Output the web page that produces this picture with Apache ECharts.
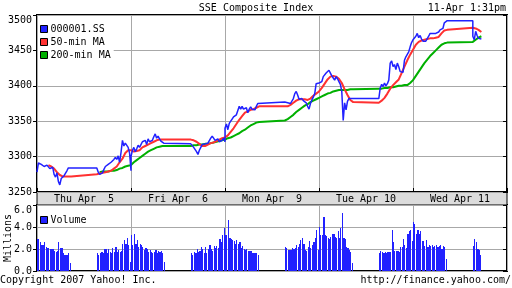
<!DOCTYPE html>
<html><head><meta charset="utf-8">
<script src="https://cdn.jsdelivr.net/npm/echarts@6/dist/echarts.min.js"></script>
<style>html,body{margin:0;padding:0;background:#fff}#c{width:512px;height:288px}</style>
</head><body><div id="c"></div>
<script>
// ---- labels ----
const dayLabels = ['Thu Apr  5', 'Fri Apr  6', 'Mon Apr  9', 'Tue Apr 10', 'Wed Apr 11'];
const priceTicks = [3250, 3300, 3350, 3400, 3450, 3500];
const volTicks = [0, 2, 4, 6];

// ---- price (5-min samples, morning 9:30-11:30, afternoon 13:00-15:00) ----
const thuAM = [3278,3291,3293,3289,3291,3286,3284,3288,3287,3283,3281,3285,3275,3271,3277,3265,3260,3269,3267,3273,3274,3280,3284,3284,3284];
const thuPM = [3282,3278,3275,3273,3277,3282,3286,3285,3289,3287,3292,3290,3296,3299,3296,3301,3292,3306,3323,3315,3319,3321,3313,3305,3280];
const friAM = [3300,3309,3313,3307,3311,3316,3313,3317,3321,3319,3323,3317,3325,3321,3319,3323,3328,3332,3326,3329,3325,3322,3321,3319,3318];
const friPM = [3319,3316,3313,3311,3307,3303,3309,3313,3317,3319,3318,3317,3319,3320,3326,3329,3326,3323,3321,3325,3321,3319,3323,3326,3321];
const monAM = [3340,3346,3338,3347,3350,3353,3356,3357,3359,3357,3371,3367,3371,3367,3365,3369,3362,3367,3370,3367,3368,3366,3371,3375,3377];
const monPM = [3376,3375,3376,3377,3375,3377,3382,3389,3392,3387,3381,3380,3382,3379,3381,3376,3371,3367,3375,3380,3384,3389,3403,3405,3404];
const tueAM = [3404,3403,3406,3413,3415,3418,3420,3422,3418,3414,3411,3408,3413,3410,3406,3402,3392,3351,3376,3366,3378,3382,3383,3382,3382];
const tuePM = [3382,3397,3402,3399,3404,3400,3403,3408,3432,3435,3427,3430,3423,3432,3427,3420,3422,3419,3436,3441,3439,3448,3455,3461,3465];
const wedAM = [3465,3466,3470,3474,3468,3471,3466,3463,3465,3463,3465,3470,3474,3476,3474,3472,3474,3474,3476,3479,3477,3481,3489,3491,3492];
const wedPM = [3470,3465,3477,3471,3467,3468,3466];

// ---- 50-min MA (10-min samples) ----
const redThuAM = [null,null,null,null,3288,3286,3283,3278,3274,3272,3272,3272,3272];
const redThuPM = [3275,3276,3277,3278,3279,3280,3283,3286,3292,3297,3305,3309,3309];
const redFriAM = [3307,3307,3308,3309,3313,3315,3317,3319,3321,3323,3324,3324,3324];
const redFriPM = [3324,3323,3321,3318,3315,3315,3317,3319,3320,3322,3324,3326,3327];
const redMonAM = [3327,3330,3335,3340,3346,3352,3357,3362,3364,3366,3367,3369,3371];
const redMonPM = [3371,3371,3373,3376,3379,3381,3381,3381,3380,3382,3386,3389,3392];
const redTueAM = [3392,3397,3403,3409,3413,3414,3413,3410,3404,3395,3387,3380,3377];
const redTuePM = [3376,3379,3383,3389,3396,3401,3405,3409,3418,3427,3436,3444,3451];
const redWedAM = [3452,3458,3462,3464,3465,3466,3467,3467,3468,3469,3474,3478,3479];
const redWedPM = [3482,3481,3479,3476];

// ---- 200-min MA (10-min samples) ----
const grnThuAM = [null,null,null,null,null,null,null,null,null,null,null,null,null];
const grnThuPM = [null,3278,3279,3279,3279,3280,3280,3281,3283,3284,3286,3287,3288];
const grnFriAM = [3289,3292,3295,3298,3301,3304,3307,3309,3311,3313,3314,3315,3315];
const grnFriPM = [3315,3316,3316,3317,3317,3318,3318,3319,3320,3321,3322,3323,3324];
const grnMonAM = [3324,3326,3327,3329,3331,3333,3336,3338,3341,3344,3346,3348,3349];
const grnMonPM = [3351,3353,3356,3359,3363,3366,3369,3372,3374,3377,3379,3381,3383];
const grnTueAM = [3383,3385,3387,3389,3390,3392,3393,3394,3394,3394,3394,3395,3395];
const grnTuePM = [3396,3396,3397,3397,3398,3398,3399,3400,3400,3401,3401,3404,3408];
const grnWedAM = [3408,3414,3420,3426,3432,3437,3442,3446,3450,3454,3458,3460,3461];
const grnWedPM = [3462,3465,3468,3470];

// ---- volume, millions (5-min bars) ----
const volThuAM = [2.9,2.9,2.6,2.4,2.4,2.6,2.2,2.1,2.1,2.0,2.0,2.0,1.85,1.7,1.85,2.6,2.1,2.1,1.6,1.5,1.5,1.5,1.6,0.75];
const volThuPM = [1.6,1.45,1.6,1.75,1.6,2.0,2.0,1.6,2.0,1.75,1.6,2.05,1.75,2.2,1.75,1.9,1.75,1.85,2.5,2.8,2.5,3.0,2.4,0.85];
const volFriAM = [3.3,2.4,3.4,2.5,2.8,2.2,2.45,2.4,2.2,1.9,2.05,2.0,1.75,1.9,1.75,1.6,1.75,1.9,1.6,1.8,1.7,1.8,1.6,0.85];
const volFriPM = [1.6,1.5,1.75,1.6,2.0,1.75,1.8,2.2,2.0,1.65,2.15,1.6,2.0,2.4,2.0,1.8,2.3,2.1,2.3,2.1,2.9,2.6,3.3,3.9];
const volMonAM = [3.3,3.3,4.6,3.0,2.9,2.8,2.7,2.5,2.8,2.5,2.6,2.1,2.3,2.0,1.9,2.0,1.85,1.8,1.8,1.6,1.6,1.6,1.6,1.5];
const volMonPM = [2.2,2.1,1.95,1.95,1.9,2.05,2.0,2.1,2.4,2.2,2.5,2.8,3.0,2.5,1.9,1.8,2.2,2.75,2.1,2.4,2.6,3.0,3.7,1.9];
const volTueAM = [4.0,3.3,3.3,4.9,3.3,3.2,3.0,2.9,3.1,3.4,3.4,3.1,3.0,3.6,3.0,3.9,5.25,3.0,2.9,2.2,2.1,1.9,1.7,0.7];
const volTuePM = [1.6,1.85,1.7,1.6,1.7,1.6,1.7,1.7,1.7,3.7,2.6,1.85,1.85,1.85,1.7,2.2,2.2,2.9,2.4,2.1,3.4,3.6,3.7,2.75];
const volWedAM = [4.5,4.3,3.4,3.7,3.4,3.6,2.75,2.75,2.3,2.8,2.2,2.4,2.3,2.4,2.2,2.3,2.4,2.2,2.3,2.4,2.0,2.3,2.2,1.1];
const volWedPM = [2.3,2.9,2.6,2.0,1.95,1.5];

// ---- session layout (minutes since 9:30 of first day) ----
const DAY_LEN = 330, PM_START = 210;
const MONO = '"DejaVu Sans Mono", monospace';
const BLUE = '#2121ff', RED = '#ff3131', GREEN = '#00b000';

function buildPrice(am, pm) {
  const out = [];
  am.forEach((a, d) => {
    const base = d * DAY_LEN;
    a.forEach((v, k) => out.push([base + 5 * k, v]));
    out.push([base + PM_START, a[a.length - 1]]);      // lunch break: held at morning close
    pm[d].forEach((v, k) => out.push([base + PM_START + 5 * k, v]));
  });
  return out;
}
function buildMA(am, pm) {
  const out = [];
  am.forEach((a, d) => {
    const base = d * DAY_LEN;
    a.forEach((v, k) => out.push([base + 10 * k, v]));
    pm[d].forEach((v, k) => out.push([base + PM_START + 10 * k, v]));
  });
  return out;
}
function buildVol(am, pm) {
  const out = [];
  am.forEach((a, d) => {
    const base = d * DAY_LEN;
    a.forEach((v, k) => out.push([base + 5 * k, v]));
    pm[d].forEach((v, k) => out.push([base + PM_START + 5 * k, v]));
  });
  return out;
}

const priceData = buildPrice([thuAM, friAM, monAM, tueAM, wedAM], [thuPM, friPM, monPM, tuePM, wedPM]);
const redData = buildMA([redThuAM, redFriAM, redMonAM, redTueAM, redWedAM], [redThuPM, redFriPM, redMonPM, redTuePM, redWedPM]);
const grnData = buildMA([grnThuAM, grnFriAM, grnMonAM, grnTueAM, grnWedAM], [grnThuPM, grnFriPM, grnMonPM, grnTuePM, grnWedPM]);
const volData = buildVol([volThuAM, volFriAM, volMonAM, volTueAM, volWedAM], [volThuPM, volFriPM, volMonPM, volTuePM, volWedPM]);

const chart = echarts.init(document.getElementById('c'), null, {renderer: 'canvas'});
const txt = {fontFamily: MONO, fontSize: 10, color: '#000', fontWeight: 'normal'};

const xCommon = {
  type: 'value', min: 0, max: DAY_LEN * dayLabels.length, interval: DAY_LEN,
  axisLine: {show: false}, axisLabel: {show: false},
  splitLine: {show: true, lineStyle: {color: '#a8a8a8', width: 1}}
};

chart.setOption({
  animation: false,
  backgroundColor: '#fff',
  title: [
    {text: 'SSE Composite Index', left: 'center', top: 2, padding: 0, textStyle: Object.assign({lineHeight: 12}, txt)},
    {text: '11-Apr 1:31pm', right: 6, top: 2, padding: 0, textStyle: Object.assign({lineHeight: 12}, txt)},
    {text: 'Copyright 2007 Yahoo! Inc.', left: 0, top: 274, padding: 0, textStyle: Object.assign({lineHeight: 12}, txt)},
    {text: 'http://finance.yahoo.com/', right: 1, top: 274, padding: 0, textStyle: Object.assign({lineHeight: 12}, txt)}
  ],
  legend: [
    {data: ['000001.SS', '50-min MA', '200-min MA'], orient: 'vertical', left: 38, top: 22,
     icon: 'rect', itemWidth: 7, itemHeight: 7, itemGap: 1, selectedMode: false,
     backgroundColor: '#fff', padding: [1, 3, 1, 2],
     itemStyle: {borderColor: '#000', borderWidth: 1},
     textStyle: Object.assign({lineHeight: 12, padding: [0, 0, 0, -2]}, txt)},
    {data: ['Volume'], orient: 'vertical', left: 38, top: 213,
     icon: 'rect', itemWidth: 7, itemHeight: 7, selectedMode: false,
     backgroundColor: '#fff', padding: [1, 3, 1, 2],
     itemStyle: {borderColor: '#000', borderWidth: 1},
     textStyle: Object.assign({lineHeight: 12, padding: [0, 0, 0, -2]}, txt)}
  ],
  grid: [
    {left: 37, top: 15, width: 470, height: 177, show: true, borderColor: '#000', borderWidth: 2, backgroundColor: '#fff', outerBoundsMode: 'none', containLabel: false},
    {left: 37, top: 205, width: 470, height: 66, show: true, borderColor: '#000', borderWidth: 2, backgroundColor: '#fff', outerBoundsMode: 'none', containLabel: false},
    {left: 37, top: 192, width: 470, height: 13, show: true, borderColor: '#000', borderWidth: 1, backgroundColor: '#dcdcdc', outerBoundsMode: 'none', containLabel: false}
  ],
  xAxis: [
    Object.assign({}, xCommon, {gridIndex: 0, axisTick: {show: true, inside: true, length: 4, lineStyle: {color: '#000', width: 1}}}),
    Object.assign({}, xCommon, {gridIndex: 1, axisTick: {show: false}}),
    {type: 'category', gridIndex: 2, data: dayLabels, boundaryGap: true,
     axisLine: {show: false}, axisTick: {show: false}, splitLine: {show: false},
     axisLabel: Object.assign({inside: true, margin: 0, lineHeight: 12, interval: 0}, txt)}
  ],
  yAxis: [
    {type: 'value', gridIndex: 0, min: priceTicks[0], max: priceTicks[priceTicks.length - 1], interval: 50, position: 'left',
     axisLine: {show: false}, axisTick: {show: true, length: 4, lineStyle: {color: '#000'}},
     axisLabel: Object.assign({margin: 5, verticalAlignMaxLabel: 'top', formatter: v => String(v)}, txt),
     splitLine: {show: true, lineStyle: {color: '#a8a8a8', width: 1}}},
    {type: 'value', gridIndex: 0, min: priceTicks[0], max: priceTicks[priceTicks.length - 1], interval: 50, position: 'right',
     axisLine: {show: false}, axisTick: {show: true, inside: true, length: 4, lineStyle: {color: '#000'}},
     axisLabel: {show: false}, splitLine: {show: false}},
    {type: 'value', gridIndex: 1, min: volTicks[0], max: volTicks[volTicks.length - 1], interval: 2, position: 'left',
     name: 'Millions', nameLocation: 'middle', nameRotate: 90, nameGap: 29, nameMoveOverlap: false,
     nameTextStyle: Object.assign({align: 'center', verticalAlign: 'middle'}, txt),
     axisLine: {show: false}, axisTick: {show: true, length: 4, lineStyle: {color: '#000'}},
     axisLabel: Object.assign({margin: 5, verticalAlignMaxLabel: 'top', formatter: v => v.toFixed(1)}, txt),
     splitLine: {show: true, lineStyle: {color: '#a8a8a8', width: 1}}},
    {type: 'value', gridIndex: 1, min: volTicks[0], max: volTicks[volTicks.length - 1], interval: 2, position: 'right',
     axisLine: {show: false}, axisTick: {show: true, inside: true, length: 4, lineStyle: {color: '#000'}},
     axisLabel: {show: false}, splitLine: {show: false}},
    {type: 'value', gridIndex: 2, show: false, min: 0, max: 1}
  ],
  series: [
    {name: '200-min MA', type: 'line', xAxisIndex: 0, yAxisIndex: 0, data: grnData, showSymbol: false, symbol: 'none',
     lineStyle: {color: GREEN, width: 2}, itemStyle: {color: GREEN}, connectNulls: false, z: 3},
    {name: '50-min MA', type: 'line', xAxisIndex: 0, yAxisIndex: 0, data: redData, showSymbol: false, symbol: 'none',
     lineStyle: {color: RED, width: 2}, itemStyle: {color: RED}, connectNulls: false, z: 4},
    {name: '000001.SS', type: 'line', xAxisIndex: 0, yAxisIndex: 0, data: priceData, showSymbol: false, symbol: 'none',
     lineStyle: {color: BLUE, width: 1.5}, itemStyle: {color: BLUE}, z: 5},
    {name: 'Volume', type: 'custom', xAxisIndex: 1, yAxisIndex: 2, data: volData, itemStyle: {color: BLUE},
     renderItem: function (params, api) {
       const t = api.value(0), v = api.value(1);
       const top = api.coord([t, v]);
       const bot = api.coord([t + 5, 0]);
       const x0 = Math.round(top[0]);
       let w = Math.max(1, Math.round(bot[0]) - x0);
       if (w >= 2 && x0 % 2 === 0) w -= 1;   // thin white separator between some bars
       return {type: 'rect', shape: {x: x0, y: Math.round(top[1]), width: w, height: Math.round(bot[1]) - Math.round(top[1])},
               style: {fill: BLUE}};
     }}
  ]
});
</script></body></html>
